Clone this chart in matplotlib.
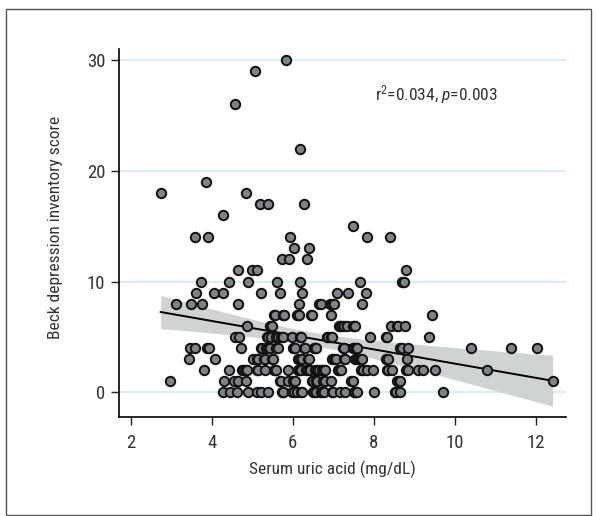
import numpy as np
import matplotlib.pyplot as plt
from matplotlib import font_manager
from matplotlib.patches import Rectangle

# pick a narrow sans if one is installed
installed = {f.name for f in font_manager.fontManager.ttflist}
candidates = ['Liberation Sans Narrow', 'Roboto Condensed', 'Open Sans Condensed',
              'Noto Sans Condensed', 'DejaVu Sans Condensed', 'Roboto']
font = next(f for f in candidates if f in installed)
plt.rcParams['font.family'] = [font, 'DejaVu Sans']
plt.rcParams['font.stretch'] = 'condensed'
plt.rcParams['mathtext.fontset'] = 'custom'
plt.rcParams['mathtext.rm'] = font
plt.rcParams['mathtext.it'] = font + ':italic'

# BDI score levels and the serum uric acid values read at each level
# (dense rows include points hidden under their neighbours)
bdi_levels = [30, 29, 26, 22, 19, 18, 17, 16, 15, 14, 13, 12, 11, 10,
              9, 8, 7, 6, 5, 4, 3, 2, 1, 0]
uric_by_level = [
    [5.83],
    [5.08],
    [4.57],
    [6.18],
    [3.86],
    [2.74, 4.84],
    [5.20, 5.38, 6.29],
    [4.28],
    [7.49],
    [3.59, 3.91, 5.94, 7.83, 8.40],
    [6.04, 6.41],
    [5.74, 5.90, 6.36],
    [4.64, 4.99, 5.13, 8.80],
    [3.73, 4.42, 4.90, 5.61, 6.18, 7.66, 8.69, 8.75],
    [3.62, 4.06, 4.29, 5.21, 5.68, 6.24, 7.10, 7.37, 7.81],
    [3.13, 3.49, 3.77, 4.64, 6.16, 6.66, 6.70, 6.93, 6.96, 7.02, 7.72],
    [5.54, 5.57, 5.75, 5.78, 6.10, 6.12, 6.15, 6.45, 6.48, 6.94, 9.45],
    [4.87, 5.45, 5.48, 7.14, 7.18, 7.22, 7.27, 7.33, 7.49, 7.52, 7.55, 8.44,
     8.58, 8.61, 8.78],
    [4.57, 4.68, 5.36, 5.40, 5.46, 5.60, 5.64, 5.72, 5.75, 5.99, 6.17, 6.20,
     6.85, 6.88, 6.95, 6.98, 7.91, 8.30, 8.33, 9.36],
    [3.47, 3.58, 3.89, 3.93, 4.73, 5.22, 5.25, 5.33, 5.40, 5.45, 5.60, 5.64,
     6.01, 6.04, 6.06, 6.27, 6.30, 6.52, 6.55, 6.58, 7.25, 7.28, 7.49, 7.52,
     7.57, 7.60, 8.66, 8.70, 8.84, 10.40, 11.40, 12.04],
    [3.45, 4.08, 5.03, 5.12, 5.15, 5.28, 5.31, 5.50, 5.52, 6.14, 6.18, 6.24,
     6.38, 6.41, 6.98, 7.02, 7.06, 7.28, 7.30, 7.53, 7.58, 7.63, 7.67, 7.70,
     8.30, 8.35, 8.82],
    [3.81, 4.43, 4.74, 4.78, 4.82, 4.87, 5.12, 5.15, 5.31, 5.54, 5.56, 5.58,
     5.88, 6.14, 6.17, 6.21, 6.34, 6.38, 6.42, 6.56, 6.60, 6.64, 6.73, 6.76,
     6.81, 7.11, 7.15, 7.19, 7.69, 7.73, 7.83, 7.98, 8.33, 8.36, 8.46, 8.80,
     8.84, 9.10, 9.22, 9.51, 10.79],
    [2.96, 4.30, 4.56, 4.65, 4.85, 5.68, 5.70, 5.88, 6.02, 6.05, 6.48, 6.50,
     6.57, 6.60, 6.76, 6.80, 6.95, 7.45, 7.49, 8.58, 8.62, 8.66, 12.42],
    [4.27, 4.46, 4.63, 4.89, 5.12, 5.22, 5.39, 5.73, 5.75, 5.77, 5.99, 6.04,
     6.10, 6.20, 6.23, 6.49, 6.53, 6.57, 6.70, 6.72, 6.77, 6.98, 7.00, 7.18,
     7.30, 7.51, 7.53, 7.55, 7.60, 8.02, 8.52, 8.55, 8.66, 9.72],
]
x_ticks = [2, 4, 6, 8, 10, 12]
y_ticks = [0, 10, 20, 30]

uric = np.concatenate([np.array(v) for v in uric_by_level])
bdi = np.repeat(bdi_levels, [len(v) for v in uric_by_level]).astype(float)

# linear fit with 95% confidence band
n = len(uric)
slope, intercept = np.polyfit(uric, bdi, 1)
resid = bdi - (slope * uric + intercept)
s = np.sqrt(np.sum(resid ** 2) / (n - 2))
xs = np.linspace(uric.min(), uric.max(), 100)
ys = slope * xs + intercept
se = s * np.sqrt(1 / n + (xs - uric.mean()) ** 2 / np.sum((uric - uric.mean()) ** 2))
t = 1.97

fig = plt.figure(figsize=(5.97, 5.16), dpi=100)
ax = fig.add_axes([0.200, 0.192, 0.748, 0.714])

ax.fill_between(xs, ys - t * se, ys + t * se, color='#cfd3d3', lw=0, zorder=1)
ax.plot(xs, ys, color='black', lw=1.4, zorder=2)
ax.scatter(uric, bdi, s=46, facecolor='#7e8388', edgecolor='#111111',
           linewidth=1.4, zorder=3)

ax.set_xlim(1.72, 12.75)
ax.set_ylim(-2.24, 31.06)
ax.set_xticks(x_ticks)
ax.set_yticks(y_ticks)
ax.yaxis.grid(True, color='#d5edf3', lw=1.3)
ax.set_axisbelow(True)
for side in ['top', 'right']:
    ax.spines[side].set_visible(False)
for side in ['left', 'bottom']:
    ax.spines[side].set_linewidth(1.2)
ax.tick_params(length=6, width=1, color='#222222', labelcolor='#333333',
               labelsize=13.5, pad=4)
ax.tick_params(axis='x', pad=6)

ax.set_xlabel('Serum uric acid (mg/dL)', fontsize=12.5, color='#333333')
ax.set_ylabel('Beck depression inventory score', fontsize=12.5, color='#333333')
ax.xaxis.set_label_coords(0.478, -0.12)
ax.yaxis.set_label_coords(-0.127, 0.515)

ax.text(8.03, 26.9, r'r$^{2}$=0.034, $p$=0.003', fontsize=12.5,
        color='#333333', va='center')

fig.patches.append(Rectangle((0.010, 0.002), 0.980, 0.981, transform=fig.transFigure,
                             fill=False, edgecolor='#555555', lw=1))

fig.savefig('out.png', dpi=100)
